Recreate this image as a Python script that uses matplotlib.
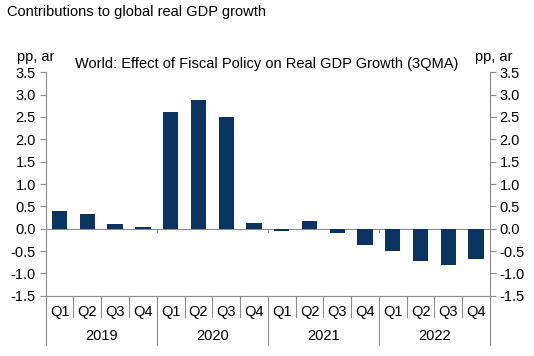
import numpy as np
import matplotlib.pyplot as plt

plt.rcParams['font.family'] = ['Liberation Sans', 'DejaVu Sans']

years = ['2019', '2020', '2021', '2022']
quarters = ['Q1', 'Q2', 'Q3', 'Q4']
values = [0.40, 0.33, 0.11, 0.04,
          2.61, 2.88, 2.50, 0.12,
          -0.05, 0.18, -0.10, -0.36,
          -0.50, -0.72, -0.82, -0.68]

navy = '#0B3560'
grey = '#8C8C8C'
fs = 10.5

fig = plt.figure(figsize=(5.34, 3.56), dpi=100)
ax = fig.add_axes([0.0856, 0.169, 0.832, 0.628])

x = np.arange(len(values))
ax.bar(x, values, width=0.55, color=navy, zorder=3)

ax.set_xlim(-0.5, len(values) - 0.5)
ax.set_ylim(-1.5, 3.5)
yt = np.arange(-1.5, 3.51, 0.5)
ax.set_yticks(yt)
ax.set_yticklabels(['%.1f' % v for v in yt], fontsize=fs)
ax.tick_params(axis='y', direction='out', length=4, color=grey,
               left=True, right=True, labelleft=True, labelright=True)
ax.tick_params(axis='y', which='major', pad=3)
for lab in ax.get_yticklabels():
    pass
ax.set_xticks([])

ax.spines['top'].set_visible(False)
for s in ['left', 'right', 'bottom']:
    ax.spines[s].set_color(grey)
    ax.spines[s].set_linewidth(0.8)

ax.axhline(0, color=grey, lw=0.8, zorder=2)

# category axis with quarter / year separators
tr = ax.get_xaxis_transform()
for i in range(len(values) + 1):
    b = i - 0.5
    low = -0.22 if i % 4 == 0 else -0.094
    ax.plot([b, b], [0, low], transform=tr, color=grey, lw=0.8, clip_on=False)
    if i % 4 == 0 and 0 < i < len(values):
        ax.plot([b, b], [0.3, 0.285], transform=tr, color=grey, lw=0.8)
for i, v in enumerate(values):
    ax.text(i, -0.071, quarters[i % 4], transform=tr, ha='center', va='center',
            fontsize=fs)
for j, y in enumerate(years):
    ax.text(j * 4 + 1.5, -0.18, y, transform=tr, ha='center', va='center',
            fontsize=fs)

fig.text(0.013, 0.965, 'Contributions to global real GDP growth', fontsize=10.5,
         ha='left', va='center')
fig.text(0.5, 0.82, 'World: Effect of Fiscal Policy on Real GDP Growth (3QMA)',
         fontsize=fs, ha='center', va='center')
fig.text(0.066, 0.84, 'pp, ar', fontsize=fs, ha='center', va='center')
fig.text(0.925, 0.84, 'pp, ar', fontsize=fs, ha='center', va='center')

fig.savefig('out.png', dpi=100)
